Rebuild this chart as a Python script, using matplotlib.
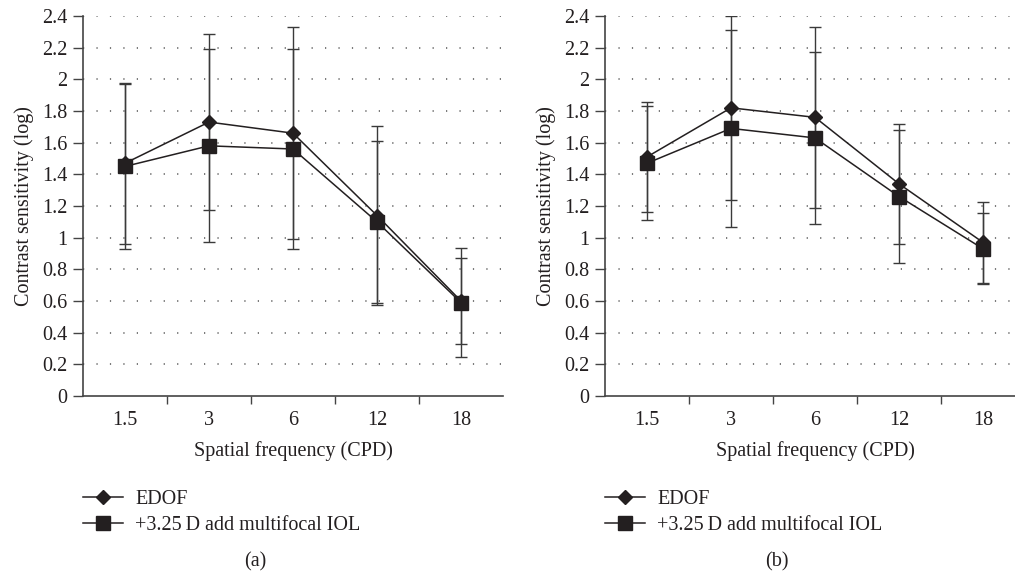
import matplotlib
matplotlib.use("Agg")
import matplotlib.pyplot as plt
import numpy as np

plt.rcParams['font.family'] = ['Liberation Serif', 'DejaVu Serif']

freqs = ['1.5', '3', '6', '12', '18']

# panel (a)
edof_a = [1.47, 1.73, 1.66, 1.14, 0.60]
edof_a_err = [0.51, 0.555, 0.67, 0.565, 0.27]
iol_a = [1.45, 1.58, 1.56, 1.10, 0.59]
iol_a_err = [0.52, 0.61, 0.63, 0.51, 0.345]

# panel (b)
edof_b = [1.51, 1.82, 1.76, 1.34, 0.97]
edof_b_err = [0.345, 0.58, 0.57, 0.38, 0.255]
iol_b = [1.47, 1.69, 1.63, 1.26, 0.93]
iol_b_err = [0.36, 0.62, 0.545, 0.42, 0.225]

yticks = [0, 0.2, 0.4, 0.6, 0.8, 1, 1.2, 1.4, 1.6, 1.8, 2, 2.2, 2.4]
ytick_labels = ['0', '0.2', '0.4', '0.6', '0.8', '1', '1.2', '1.4', '1.6', '1.8', '2', '2.2', '2.4']

W, H = 1015, 573
fig = plt.figure(figsize=(W / 100, H / 100), dpi=100)

ink = '#231f20'
fs = 14.5


def panel(left_px, edof, edof_err, iol, iol_err, tag):
    ax = fig.add_axes([left_px / W, 1 - 396 / H, 420 / W, 380 / H])
    x = np.arange(len(freqs))
    ax.errorbar(x, edof, yerr=edof_err, fmt='none', ecolor='#3a3a3a',
                elinewidth=1, capsize=4, capthick=1, zorder=2)
    ax.errorbar(x, iol, yerr=iol_err, fmt='none', ecolor='#3a3a3a',
                elinewidth=1, capsize=4, capthick=1, zorder=2)
    l1, = ax.plot(x, edof, color=ink, lw=1.1, marker='D', ms=7,
                  label='EDOF', zorder=3)
    l2, = ax.plot(x, iol, color=ink, lw=1.1, marker='s', ms=10,
                  label='+3.25\u2009D add multifocal IOL', zorder=3)
    ax.set_xlim(-0.5, 4.5)
    ax.set_ylim(0, 2.4)
    ax.set_yticks(yticks)
    ax.set_yticklabels(ytick_labels)
    ax.set_xticks(x)
    ax.set_xticklabels(freqs)
    ax.set_xticks(np.arange(0.5, 4.0, 1.0), minor=True)
    ax.tick_params(axis='x', which='major', length=0, pad=11, labelsize=fs,
                   colors=ink)
    ax.tick_params(axis='x', which='minor', length=6, width=1, direction='out',
                   color='#444444')
    ax.tick_params(axis='y', length=7, width=1, direction='out', pad=4,
                   labelsize=fs, colors=ink, color='#444444')
    for v in yticks[1:]:
        ax.axhline(v, color='#555555', lw=1.1, ls=(0, (0.8, 8)), zorder=1)
    for s in ['top', 'right']:
        ax.spines[s].set_visible(False)
    for s in ['left', 'bottom']:
        ax.spines[s].set_color('#444444')
        ax.spines[s].set_linewidth(1.2)
    ax.set_xlabel('Spatial frequency (CPD)', fontsize=fs, color=ink, labelpad=8)
    ax.set_ylabel('Contrast sensitivity (log)', fontsize=fs, color=ink, labelpad=6)
    leg = fig.legend(handles=[l1, l2], loc='upper left',
                     bbox_to_anchor=((left_px - 8) / W, 1 - 482 / H),
                     frameon=False, fontsize=fs, handlelength=2.0,
                     handletextpad=0.6, labelspacing=0.35, borderaxespad=0)
    for t in leg.get_texts():
        t.set_color(ink)
    fig.text((left_px + 172) / W, 1 - 562 / H, tag, ha='center', va='center',
             fontsize=fs, color=ink)
    return ax


panel(83, edof_a, edof_a_err, iol_a, iol_a_err, '(a)')
panel(605, edof_b, edof_b_err, iol_b, iol_b_err, '(b)')

fig.savefig('out.png', dpi=100)
